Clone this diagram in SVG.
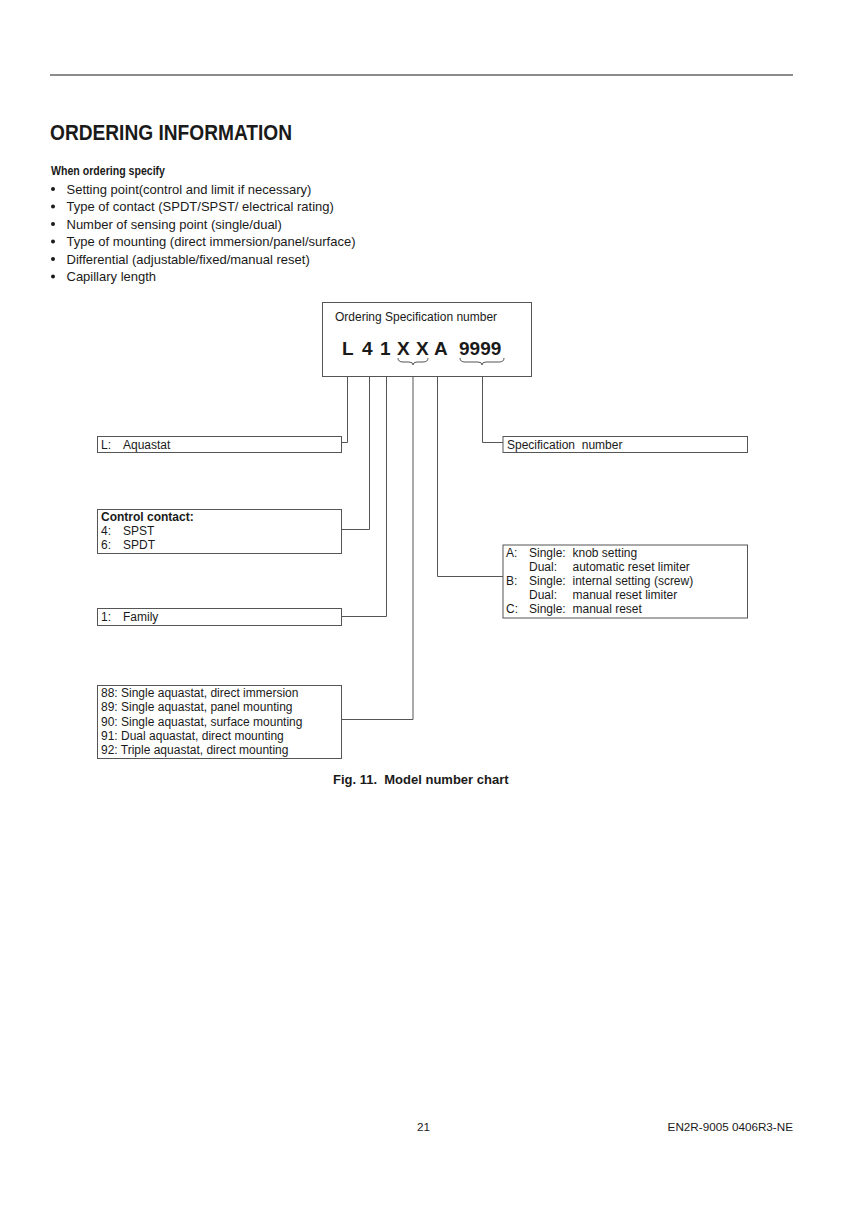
<svg xmlns="http://www.w3.org/2000/svg" width="867" height="1227" viewBox="0 0 867 1227">
<style>
text{font-family:"Liberation Sans",Arial,sans-serif;fill:#1a1a1a}
.b{font-size:13px}
.t{font-size:12px}
.bold{font-weight:bold}
.box{fill:#fff;stroke:#555;stroke-width:1}
.ln{fill:none;stroke:#555;stroke-width:1}
.code{font-size:19px;font-weight:bold}
.pre{white-space:pre}
</style>
<rect width="867" height="1227" fill="#fff"/>
<line x1="50" y1="75" x2="793" y2="75" stroke="#666" stroke-width="1.3"/>
<g id="heading">
<text x="50" y="140" font-size="22" font-weight="bold" textLength="242" lengthAdjust="spacingAndGlyphs">ORDERING INFORMATION</text>
<text x="51" y="175" font-size="12.5" font-weight="bold" textLength="114" lengthAdjust="spacingAndGlyphs">When ordering specify</text>
</g>
<g id="bullets" class="b">
<circle cx="53" cy="189" r="2" fill="#1a1a1a"/><text x="66.5" y="193.5">Setting point(control and limit if necessary)</text>
<circle cx="53" cy="206.5" r="2" fill="#1a1a1a"/><text x="66.5" y="211">Type of contact (SPDT/SPST/ electrical rating)</text>
<circle cx="53" cy="224" r="2" fill="#1a1a1a"/><text x="66.5" y="228.5">Number of sensing point (single/dual)</text>
<circle cx="53" cy="241.5" r="2" fill="#1a1a1a"/><text x="66.5" y="246">Type of mounting (direct immersion/panel/surface)</text>
<circle cx="53" cy="259" r="2" fill="#1a1a1a"/><text x="66.5" y="263.5">Differential (adjustable/fixed/manual reset)</text>
<circle cx="53" cy="276.5" r="2" fill="#1a1a1a"/><text x="66.5" y="281">Capillary length</text>
</g>
<g id="spec">
<rect class="box" x="322.5" y="302.5" width="209" height="74"/>
<text class="t" x="335" y="321">Ordering Specification number</text>
<text class="code" x="342" y="355">L</text>
<text class="code" x="362" y="355">4</text>
<text class="code" x="380" y="355">1</text>
<text class="code" x="397" y="355">X</text>
<text class="code" x="416" y="355">X</text>
<text class="code" x="434" y="355">A</text>
<text class="code" x="459" y="355">9999</text>
<path class="ln" d="M398,358 q0,4 5,4 h6 q4,0 4,3 q0,-3 4,-3 h6 q5,0 5,-4"/>
<path class="ln" d="M460,358 q0,4 5,4 h13 q4,0 4,3 q0,-3 4,-3 h13 q5,0 5,-4"/>
</g>
<g id="connectors">
<path class="ln" d="M347.5,377 V442.5 H341.5"/>
<path class="ln" d="M369.5,377 V529.5 H341.5"/>
<path class="ln" d="M386.5,377 V616.5 H341.5"/>
<path class="ln" d="M413,377 V719.5 H341.5"/>
<path class="ln" d="M437.5,377 V576.5 H503"/>
<path class="ln" d="M482.5,377 V442.5 H503"/>
</g>
<g id="n-aquastat">
<rect class="box" x="97.5" y="436.5" width="244" height="16"/>
<text class="t" x="101" y="448.5">L:</text><text class="t" x="123" y="448.5">Aquastat</text>
</g>
<g id="n-specnum">
<rect class="box" x="503" y="436.5" width="244.5" height="16"/>
<text class="t pre" x="507" y="448.5">Specification  number</text>
</g>
<g id="n-contact">
<rect class="box" x="97.5" y="509.5" width="244" height="44"/>
<text class="t bold" x="101" y="521">Control contact:</text>
<text class="t" x="101" y="535">4:</text><text class="t" x="123" y="535">SPST</text>
<text class="t" x="101" y="549">6:</text><text class="t" x="123" y="549">SPDT</text>
</g>
<g id="n-family">
<rect class="box" x="97.5" y="608.5" width="244" height="17"/>
<text class="t" x="101" y="621">1:</text><text class="t" x="123" y="621">Family</text>
</g>
<g id="n-setting">
<rect class="box" x="503" y="545" width="244.5" height="73"/>
<text class="t" x="506" y="557">A:</text><text class="t" x="529" y="557">Single:</text><text class="t" x="572.5" y="557">knob setting</text>
<text class="t" x="529" y="571">Dual:</text><text class="t" x="572.5" y="571">automatic reset limiter</text>
<text class="t" x="506" y="585">B:</text><text class="t" x="529" y="585">Single:</text><text class="t" x="572.5" y="585">internal setting (screw)</text>
<text class="t" x="529" y="599">Dual:</text><text class="t" x="572.5" y="599">manual reset limiter</text>
<text class="t" x="506" y="613">C:</text><text class="t" x="529" y="613">Single:</text><text class="t" x="572.5" y="613">manual reset</text>
</g>
<g id="n-type">
<rect class="box" x="97.5" y="685.5" width="244" height="73"/>
<text class="t" x="101" y="697">88: Single aquastat, direct immersion</text>
<text class="t" x="101" y="711.3">89: Single aquastat, panel mounting</text>
<text class="t" x="101" y="725.6">90: Single aquastat, surface mounting</text>
<text class="t" x="101" y="739.9">91: Dual aquastat, direct mounting</text>
<text class="t" x="101" y="754.2">92: Triple aquastat, direct mounting</text>
</g>
<text class="bold pre" x="333" y="784" font-size="13">Fig. 11.  Model number chart</text>
<g id="footer">
<text x="417" y="1131" font-size="11.7">21</text>
<text x="793" y="1131" font-size="11.7" text-anchor="end">EN2R-9005 0406R3-NE</text>
</g>
</svg>
